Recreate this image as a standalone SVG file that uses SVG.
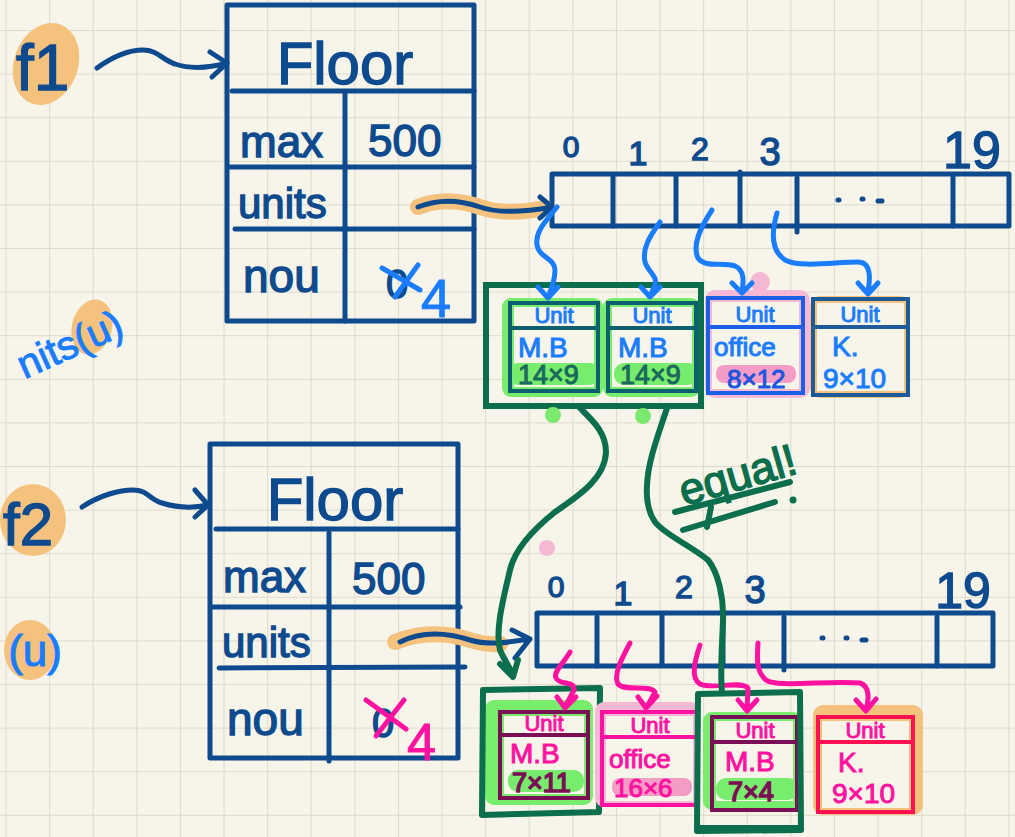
<svg xmlns="http://www.w3.org/2000/svg" width="1015" height="837" viewBox="0 0 1015 837">
<defs>
<pattern id="grid" width="43.6" height="43.6" patternUnits="userSpaceOnUse" x="5.5" y="30">
<path d="M0 0H43.6M0 0V43.6" fill="none" stroke="#dedbcc" stroke-width="2.2"/>
</pattern>
<style>
.hand{font-family:"Liberation Sans","DejaVu Sans",sans-serif;}
.navy{stroke:#0d4a8e;fill:none;stroke-width:5;stroke-linecap:round;stroke-linejoin:round;}
.navyT{fill:#0d4a8e;stroke:#0d4a8e;stroke-width:1.4;}
.blue{stroke:#1a7cff;fill:none;stroke-width:5;stroke-linecap:round;stroke-linejoin:round;}
.blueT{fill:#1a7cff;stroke:#1a7cff;stroke-width:1;}
.pink{stroke:#ff12a0;fill:none;stroke-width:5;stroke-linecap:round;stroke-linejoin:round;}
.pinkT{fill:#ff12a0;stroke:#ff12a0;stroke-width:1;}
.green{stroke:#0b6e4c;fill:none;stroke-width:6;stroke-linecap:round;stroke-linejoin:round;}
.greenT{fill:#0b6e4c;stroke:#0b6e4c;stroke-width:1.5;}
.orangeHL{fill:#f5c27e;}
.orangeLine{stroke:#f5c27e;stroke-width:16;fill:none;stroke-linecap:round;}
.greenHL{fill:#78ec6c;}
.pinkHL{fill:#f6b9d5;}
.cream{fill:#f7f5e9;}
</style>
</defs>
<rect width="1015" height="837" fill="#f7f5e9"/>
<rect width="1015" height="837" fill="url(#grid)"/>

<!-- left labels -->
<g id="f1">
<ellipse cx="46" cy="64" rx="32" ry="42" transform="rotate(20 46 64)" class="orangeHL"/>
<text x="16" y="90" font-size="64" class="hand navyT">f1</text>
</g>
<g id="f2">
<ellipse cx="33" cy="520" rx="33" ry="36" class="orangeHL"/>
<text x="3" y="545" font-size="60" class="hand navyT">f2</text>
</g>
<g id="note-units-u">
<ellipse cx="92" cy="327" rx="20" ry="28" transform="rotate(15 92 327)" class="orangeHL"/>
<text x="126" y="334" font-size="40" text-anchor="end" transform="rotate(-24 126 334)" class="hand blueT">nits(u)</text>
</g>
<g id="note-u">
<ellipse cx="30" cy="650" rx="26" ry="30" class="orangeHL"/>
<text x="62" y="666" font-size="44" text-anchor="end" class="hand blueT">(u)</text>
</g>

<!-- Floor f1 -->
<g id="floor1">
<rect x="227" y="5" width="247" height="316" class="navy"/>
<line x1="232" y1="91" x2="474" y2="91" class="navy"/>
<line x1="345" y1="93" x2="345" y2="321" class="navy"/>
<line x1="229" y1="167" x2="474" y2="167" class="navy"/>
<line x1="235" y1="229" x2="474" y2="229" class="navy"/>
<text x="345" y="84" font-size="60" text-anchor="middle" class="hand navyT">Floor</text>
<text x="240" y="157" font-size="44" class="hand navyT">max</text>
<text x="368" y="156" font-size="44" class="hand navyT">500</text>
<text x="238" y="218" font-size="42" class="hand navyT">units</text>
<text x="243" y="292" font-size="46" class="hand navyT">nou</text>
<text x="386" y="298" font-size="40" class="hand navyT">0</text>
<path d="M382 268L420 290M418 265L395 297" class="blue"/>
<text x="421" y="317" font-size="54" class="hand blueT">4</text>
</g>

<!-- Floor f2 -->
<g id="floor2">
<rect x="210" y="444" width="248" height="314" class="navy"/>
<line x1="216" y1="529" x2="458" y2="529" class="navy"/>
<line x1="329" y1="533" x2="329" y2="761" class="navy"/>
<line x1="212" y1="607" x2="460" y2="607" class="navy"/>
<line x1="219" y1="668" x2="465" y2="667" class="navy"/>
<text x="335" y="520" font-size="60" text-anchor="middle" class="hand navyT">Floor</text>
<text x="223" y="592" font-size="44" class="hand navyT">max</text>
<text x="352" y="594" font-size="44" class="hand navyT">500</text>
<text x="222" y="657" font-size="42" class="hand navyT">units</text>
<text x="227" y="735" font-size="46" class="hand navyT">nou</text>
<text x="372" y="737" font-size="40" class="hand navyT">0</text>
<path d="M366 700L406 729M404 700L376 736" class="pink"/>
<text x="407" y="760" font-size="52" class="hand pinkT">4</text>
</g>

<!-- array 1 -->
<g id="array1">
<rect x="552" y="174" width="457" height="52" class="navy"/>
<path d="M613 176V226M676 176V226M740 172V226M797 178V232M953 176V226" class="navy"/>
<text x="571" y="157" font-size="30" text-anchor="middle" class="hand navyT">0</text>
<text x="638" y="165" font-size="34" text-anchor="middle" class="hand navyT">1</text>
<text x="700" y="160" font-size="32" text-anchor="middle" class="hand navyT">2</text>
<text x="770" y="165" font-size="38" text-anchor="middle" class="hand navyT">3</text>
<text x="972" y="168" font-size="52" text-anchor="middle" class="hand navyT">19</text>
<path d="M838 200h1M862 199h1M878 201h4" class="navy" stroke-width="6"/>
</g>

<!-- array 2 -->
<g id="array2">
<rect x="537" y="613" width="456" height="53" class="navy"/>
<path d="M597 617V666M662 615V664M723 615V664M784 617V670M937 617V666" class="navy"/>
<text x="556" y="597" font-size="30" text-anchor="middle" class="hand navyT">0</text>
<text x="623" y="605" font-size="34" text-anchor="middle" class="hand navyT">1</text>
<text x="684" y="598" font-size="32" text-anchor="middle" class="hand navyT">2</text>
<text x="755" y="603" font-size="38" text-anchor="middle" class="hand navyT">3</text>
<text x="963" y="608" font-size="50" text-anchor="middle" class="hand navyT">19</text>
<path d="M822 638h1M846 638h1M862 640h4" class="navy" stroke-width="6"/>
</g>

<!-- top units -->
<g id="unit-t1">
<rect x="502" y="298" width="101" height="99" rx="9" class="greenHL"/>
<rect x="514" y="307" width="80" height="80" class="cream"/>
<rect x="508" y="363" width="92" height="22" rx="10" class="greenHL"/>
<rect x="510" y="303" width="88" height="88" fill="none" stroke="#0c5f6e" stroke-width="4"/>
<line x1="510" y1="328" x2="598" y2="328" stroke="#0c5f6e" stroke-width="4"/>
<text x="554" y="323" font-size="22" text-anchor="middle" class="hand blueT">Unit</text>
<text x="518" y="357" font-size="28" class="hand blueT">M.B</text>
<text x="518" y="384" font-size="27" class="hand" fill="#1a6a5c" stroke="#1a6a5c" stroke-width="1">14×9</text>
</g>
<g id="unit-t2">
<rect x="603" y="298" width="97" height="99" rx="9" class="greenHL"/>
<rect x="612" y="307" width="80" height="80" class="cream"/>
<rect x="614" y="363" width="84" height="22" rx="10" class="greenHL"/>
<rect x="608" y="303" width="88" height="88" fill="none" stroke="#0c5f6e" stroke-width="4"/>
<line x1="608" y1="328" x2="696" y2="328" stroke="#0c5f6e" stroke-width="4"/>
<text x="652" y="323" font-size="22" text-anchor="middle" class="hand blueT">Unit</text>
<text x="618" y="357" font-size="28" class="hand blueT">M.B</text>
<text x="620" y="384" font-size="27" class="hand" fill="#1a6a5c" stroke="#1a6a5c" stroke-width="1">14×9</text>
</g>
<g id="unit-t3">
<rect x="705" y="290" width="105" height="108" rx="10" class="pinkHL"/>
<rect x="712" y="302" width="87" height="87" class="cream"/>
<rect x="716" y="365" width="80" height="18" rx="8" fill="#f29cc6"/>
<rect x="708" y="298" width="95" height="95" fill="none" stroke="#1a5fe6" stroke-width="4"/>
<line x1="708" y1="327" x2="803" y2="327" stroke="#1a5fe6" stroke-width="4"/>
<text x="755" y="322" font-size="22" text-anchor="middle" class="hand blueT">Unit</text>
<text x="714" y="356" font-size="26" class="hand blueT">office</text>
<text x="727" y="388" font-size="26" class="hand" fill="#1b55e0" stroke="#1b55e0" stroke-width="1">8×12</text>
</g>
<g id="unit-t4">
<rect x="810" y="296" width="100" height="102" rx="10" class="orangeHL"/>
<rect x="817" y="303" width="87" height="88" class="cream"/>
<rect x="813" y="299" width="95" height="96" fill="none" stroke="#1d5a9a" stroke-width="4"/>
<line x1="813" y1="327" x2="908" y2="327" stroke="#1d5a9a" stroke-width="4"/>
<text x="860" y="322" font-size="22" text-anchor="middle" class="hand blueT">Unit</text>
<text x="832" y="356" font-size="28" class="hand blueT">K.</text>
<text x="823" y="388" font-size="28" class="hand blueT">9×10</text>
</g>
<g id="group-top">
<rect x="486" y="285" width="215" height="121" fill="none" stroke="#0b6e4c" stroke-width="6"/>
</g>

<!-- bottom units -->
<g id="unit-b1">
<rect x="485" y="700" width="108" height="105" rx="9" class="greenHL"/>
<rect x="504" y="716" width="80" height="78" class="cream"/>
<rect x="508" y="770" width="76" height="22" rx="10" class="greenHL"/>
<rect x="500" y="712" width="88" height="86" fill="none" stroke="#7a0f55" stroke-width="4"/>
<line x1="500" y1="735" x2="588" y2="735" stroke="#7a0f55" stroke-width="4"/>
<text x="544" y="731" font-size="22" text-anchor="middle" class="hand pinkT">Unit</text>
<text x="510" y="763" font-size="28" class="hand pinkT">M.B</text>
<text x="512" y="792" font-size="27" class="hand" fill="#7a0f55" stroke="#7a0f55" stroke-width="1.5">7×11</text>
<path d="M483 690L600 688L599 812L482 815Z" class="green"/>
</g>
<g id="unit-b2">
<rect x="595" y="702" width="105" height="105" rx="9" class="pinkHL"/>
<rect x="606" y="716" width="87" height="85" class="cream"/>
<rect x="612" y="778" width="80" height="18" rx="8" fill="#f29cc6"/>
<rect x="602" y="712" width="95" height="93" fill="none" stroke="#ff12a0" stroke-width="4"/>
<line x1="602" y1="737" x2="697" y2="737" stroke="#ff12a0" stroke-width="4"/>
<text x="650" y="733" font-size="22" text-anchor="middle" class="hand pinkT">Unit</text>
<text x="609" y="768" font-size="26" class="hand pinkT">office</text>
<text x="614" y="797" font-size="26" class="hand pinkT">16×6</text>
</g>
<g id="unit-b3">
<rect x="703" y="712" width="99" height="98" rx="9" class="greenHL"/>
<rect x="716" y="721" width="77" height="80" class="cream"/>
<rect x="716" y="778" width="82" height="22" rx="10" class="greenHL"/>
<rect x="712" y="717" width="85" height="93" fill="none" stroke="#7a0f55" stroke-width="4"/>
<line x1="712" y1="742" x2="797" y2="742" stroke="#7a0f55" stroke-width="4"/>
<text x="755" y="738" font-size="22" text-anchor="middle" class="hand pinkT">Unit</text>
<text x="725" y="771" font-size="28" class="hand pinkT">M.B</text>
<text x="728" y="801" font-size="27" class="hand" fill="#7a0f55" stroke="#7a0f55" stroke-width="1.5">7×4</text>
<path d="M698 694L800 692L801 830L697 831Z M699 828L798 828" class="green"/>
</g>
<g id="unit-b4">
<rect x="813" y="705" width="110" height="110" rx="10" class="orangeHL"/>
<rect x="822" y="721" width="87" height="87" class="cream"/>
<rect x="818" y="717" width="95" height="95" fill="none" stroke="#ff1050" stroke-width="4"/>
<line x1="818" y1="742" x2="913" y2="742" stroke="#ff1050" stroke-width="4"/>
<text x="865" y="738" font-size="22" text-anchor="middle" class="hand pinkT">Unit</text>
<text x="838" y="772" font-size="28" class="hand pinkT">K.</text>
<text x="832" y="803" font-size="28" class="hand pinkT">9×10</text>
</g>

<!-- dots and note -->
<g id="marks">
<circle cx="760" cy="282" r="10" fill="#f5b8d2"/>
<circle cx="553" cy="415" r="8" fill="#7be86e"/>
<circle cx="643" cy="416" r="8" fill="#7be86e"/>
<circle cx="547" cy="548" r="8" fill="#f5b8d2"/>
</g>
<g id="note-equal">
<text x="684" y="506" font-size="44" transform="rotate(-16 684 506)" class="hand greenT">equal!</text>
<path d="M675 512L790 482M683 530L775 502M711 507L707 527" class="green"/>
<circle cx="793" cy="500" r="3.5" fill="#0b6e4c"/>
</g>

<!-- connectors -->
<g id="connectors">
<path d="M418 207C440 198 460 200 480 207C500 214 525 212 545 208" class="orangeLine"/>
<path d="M395 642C420 632 445 632 470 640C480 643 490 645 500 644" class="orangeLine"/>
<path d="M97 68C115 55 130 50 143 50C158 50 162 60 175 64C190 69 205 69 227 63M210 52L227 63L212 77" class="navy"/>
<path d="M82 507C100 495 120 490 133 490C148 490 150 500 162 503C178 508 195 508 208 505M195 490L208 505L195 517" class="navy"/>
<path d="M418 207C440 198 460 200 480 207C500 214 525 212 552 207M540 197L552 207L540 218" class="navy"/>
<path d="M400 642C420 632 445 632 470 640C490 646 510 642 530 639M512 630L530 639L515 658" class="navy"/>
<path d="M557 207C545 222 535 232 537 245C539 258 555 258 555 270C555 280 552 288 548 297M538 287L548 298L558 287" class="blue"/>
<path d="M660 222C650 236 642 248 645 262C648 272 658 276 655 285L650 296M641 287L650 297L660 287" class="blue"/>
<path d="M712 210C700 228 692 245 698 258C705 268 722 262 735 266C744 270 744 280 742 292M732 283L742 293L752 283" class="blue"/>
<path d="M777 213C772 230 770 250 785 260C800 268 835 262 858 262C872 262 870 280 868 292M858 283L868 294L878 283" class="blue"/>
<path d="M570 652C563 664 553 672 556 678C560 686 575 680 574 690L565 707M557 697L565 708L576 697" class="pink"/>
<path d="M630 643C622 658 613 675 618 684C625 692 650 684 655 692L647 707M638 697L646 708L657 696" class="pink"/>
<path d="M700 645C695 660 690 678 700 684C712 690 740 680 748 688L747 710M738 700L747 711L757 700" class="pink"/>
<path d="M758 643C757 658 756 672 766 680C776 688 830 680 860 683C870 686 869 700 866 710M856 700L866 711L876 699" class="pink"/>
<path d="M580 408C592 420 606 432 606 452C605 480 575 498 555 512C535 528 515 548 510 570C503 600 495 630 500 650C505 662 512 670 513 677M500 664L513 677L518 660" class="green"/>
<path d="M667 408C660 430 648 460 647 485C646 500 648 512 655 522C665 535 690 545 708 560C718 572 724 598 723 620C722 650 720 670 722 692" class="green"/>
</g>
</svg>
